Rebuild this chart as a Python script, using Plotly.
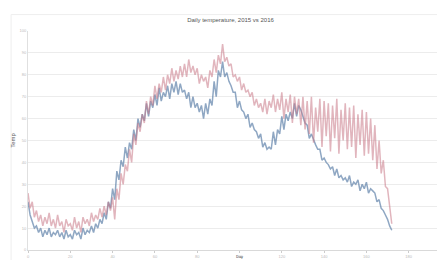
import plotly.graph_objects as go

days = list(range(173))

series_a = [26, 19, 22, 15, 18, 13, 16, 11, 15, 12, 17, 11, 14, 10, 16, 11, 13, 8, 14, 11,
            12, 9, 15, 10, 13, 8, 15, 12, 14, 11, 17, 13, 16, 14, 19, 15, 20, 16, 22, 18,
            24, 14, 28, 23, 35, 30, 39, 36, 46, 40, 53, 48, 58, 54, 62, 58, 68, 62, 70, 66,
            75, 69, 76, 72, 79, 73, 80, 76, 83, 77, 82, 78, 84, 79, 85, 79, 87, 81, 84, 80,
            83, 76, 80, 77, 79, 74, 82, 79, 87, 81, 89, 85, 94, 86, 88, 84, 85, 79, 80, 77,
            79, 73, 76, 72, 73, 70, 72, 66, 69, 65, 67, 63, 69, 62, 68, 65, 71, 63, 69, 64,
            72, 60, 69, 63, 71, 58, 70, 62, 69, 57, 70, 55, 68, 53, 70, 49, 65, 54, 69, 47,
            68, 52, 67, 45, 66, 51, 69, 44, 64, 50, 67, 46, 65, 47, 66, 42, 62, 48, 64, 43,
            63, 44, 60, 41, 57, 37, 50, 35, 41, 29, 28, 21, 12]

series_b = [22, 16, 13, 10, 11, 8, 10, 6, 9, 7, 10, 6, 8, 7, 9, 6, 8, 5, 9, 6,
            7, 5, 9, 7, 8, 5, 10, 7, 9, 8, 11, 8, 12, 10, 14, 12, 17, 14, 22, 19,
            28, 23, 36, 32, 41, 38, 47, 42, 49, 46, 55, 50, 60, 56, 62, 59, 67, 61, 68, 65,
            71, 66, 74, 68, 72, 70, 75, 69, 76, 72, 77, 71, 76, 72, 73, 69, 72, 65, 70, 65,
            67, 63, 66, 60, 67, 62, 69, 66, 77, 70, 82, 79, 86, 79, 81, 77, 75, 72, 72, 65,
            68, 64, 63, 60, 62, 56, 58, 55, 54, 51, 53, 47, 49, 46, 47, 46, 54, 48, 55, 53,
            61, 55, 62, 59, 63, 60, 67, 61, 66, 64, 61, 58, 57, 51, 53, 50, 48, 46, 46, 41,
            42, 40, 39, 37, 38, 34, 37, 33, 34, 32, 33, 31, 34, 29, 31, 30, 32, 27, 30, 28,
            31, 26, 28, 27, 26, 22, 23, 19, 18, 16, 14, 11, 9]

title_text = "Daily temperature, 2015 vs 2016"
x_title = "Day"
y_title = "Temp"

fig = go.Figure()
fig.add_trace(go.Scatter(x=days, y=series_b, mode="lines", name="2016",
                         line=dict(color="rgba(95,130,170,0.7)", width=1.5)))
fig.add_trace(go.Scatter(x=days, y=series_a, mode="lines", name="2015",
                         line=dict(color="rgba(200,120,135,0.55)", width=1.5)))

fig.update_layout(
    width=445, height=260,
    margin=dict(l=20, r=2, t=23, b=18),
    paper_bgcolor="white", plot_bgcolor="white",
    showlegend=False,
    title=dict(text=title_text, x=0.5, xanchor="center", y=0.955, yanchor="middle",
               font=dict(family="Liberation Sans", size=6, color="#555555")),
    font=dict(family="Liberation Sans", size=4, color="#b0b0b0"),
)
fig.update_xaxes(range=[0, 200], dtick=20, showgrid=False, ticks="outside",
                 ticklen=2, tickcolor="#cccccc", showline=True, linecolor="#d9d9d9",
                 tickfont=dict(size=4, color="#bbbbbb"), zeroline=False)
fig.update_yaxes(range=[0, 100], dtick=10, showgrid=True, gridcolor="#ececec",
                 gridwidth=1, showline=True, linecolor="#e0e0e0", zeroline=False,
                 tickfont=dict(size=4, color="#bbbbbb"),
                 title=dict(text=y_title, font=dict(size=6, color="#555555"), standoff=3))
fig.add_annotation(text=x_title, xref="paper", yref="paper", x=0.5, y=-0.045,
                   yanchor="bottom", showarrow=False, borderpad=0,
                   font=dict(family="Liberation Sans", size=4, color="#555555"))
fig.add_shape(type="rect", xref="paper", yref="paper", x0=-0.04, x1=1.0, y0=-0.075, y1=1.075,
              line=dict(color="#eeeeee", width=1))

fig.write_html("out.html")
